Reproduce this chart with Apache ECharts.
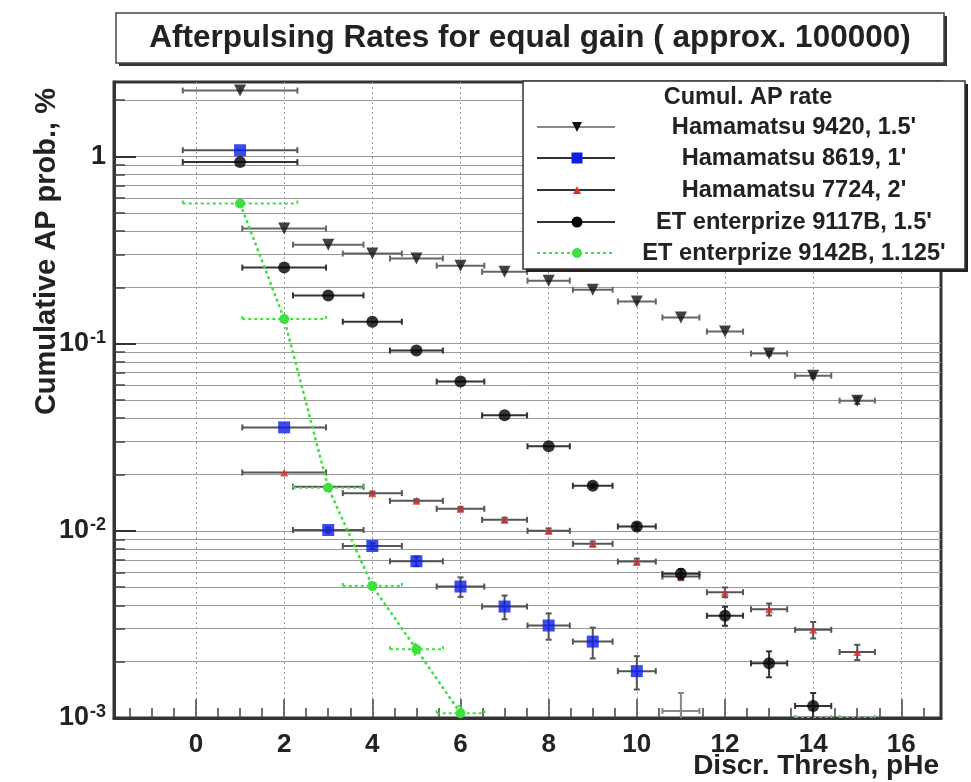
<!DOCTYPE html>
<html>
<head>
<meta charset="utf-8">
<script src="https://cdn.jsdelivr.net/npm/echarts@6/dist/echarts.min.js"></script>
<style>
  html, body { margin: 0; padding: 0; background: #fff; }
  #chart { width: 971px; height: 782px; }
</style>
</head>
<body>
<div id="chart"></div>
<script>
// Discriminator thresholds (pHe) and the half width of each threshold bin
const thresholds = [1, 2, 3, 4, 5, 6, 7, 8, 9, 10, 11, 12, 13, 14, 15];
const binHalfWidth = [1.3, 0.95, 0.8, 0.67, 0.6, 0.54, 0.51, 0.48, 0.45, 0.43, 0.42, 0.41, 0.41, 0.41, 0.4];

// Cumulative afterpulse probability, % (thresholds 1..n)
const ham9420 = [2.25, 0.412, 0.338, 0.303, 0.285, 0.261, 0.242, 0.217, 0.194, 0.168, 0.138, 0.116, 0.0885, 0.0674, 0.0496];
const ham9420Err = [0.02, 0.004, 0.003, 0.003, 0.003, 0.003, 0.003, 0.003, 0.003, 0.003, 0.002, 0.002, 0.002, 0.002, 0.002];

const ham8619 = [1.08, 0.0357, 0.0101, 0.0083, 0.00688, 0.00504, 0.00394, 0.00312, 0.00256, 0.00178];
const ham8619Err = [0.01, 0.0005, 0.0003, 0.0003, 0.0004, 0.0006, 0.00057, 0.0005, 0.00048, 0.00036];

// thresholds 2..15
const ham7724 = [0.0205, 0.0172, 0.0159, 0.01446, 0.01312, 0.01145, 0.0100, 0.00852, 0.00685, 0.0057, 0.0047, 0.00381, 0.00296, 0.00225];
const ham7724Err = [0.0003, 0.0003, 0.0003, 0.0003, 0.0003, 0.0003, 0.0003, 0.00025, 0.00025, 0.00025, 0.00028, 0.00028, 0.0003, 0.00021];

const et9117 = [0.933, 0.255, 0.181, 0.131, 0.0918, 0.0627, 0.0414, 0.0283, 0.0174, 0.01055, 0.00589, 0.00352, 0.00196, 0.00116];
const et9117Err = [0.01, 0.003, 0.002, 0.0015, 0.001, 0.0008, 0.0006, 0.0005, 0.0004, 0.0004, 0.00035, 0.00041, 0.00031, 0.0002];

const et9142 = [0.561, 0.1355, 0.0170, 0.00508, 0.00233, 0.00106];
const et9142Err = [0.005, 0.002, 0.0004, 0.0002, 0.00015, 0.0001];

// Points sitting on the lower edge of the range: only their bars remain visible
const et9142Tail = { x: [14, 15], y: [0.001, 0.001] };
const ham8619Tail = { x: [11], y: [0.00109], yErr: [0.00027] };

const seriesNames = [
  'Hamamatsu 9420, 1.5\'',
  'Hamamatsu 8619, 1\'',
  'Hamamatsu 7724, 2\'',
  'ET enterprize 9117B, 1.5\'',
  'ET enterprize 9142B, 1.125\''
];
const legendHeader = 'Cumul. AP rate';
const titleText = 'Afterpulsing Rates for equal gain ( approx. 100000)';
const xTitle = 'Discr. Thresh, pHe';
const yTitle = 'Cumulative AP prob., %';

const xMajorTicks = [0, 2, 4, 6, 8, 10, 12, 14, 16];
const xMinorTicks = [-1.5, -1, -0.5, 0.5, 1, 1.5, 2.5, 3, 3.5, 4.5, 5, 5.5, 6.5, 7, 7.5, 8.5, 9, 9.5, 10.5, 11, 11.5, 12.5, 13, 13.5, 14.5, 15, 15.5, 16.5];
const yMajorTicks = [0.001, 0.01, 0.1, 1];
const yMinorTicks = [
  0.002, 0.003, 0.004, 0.005, 0.006, 0.007, 0.008, 0.009,
  0.02, 0.03, 0.04, 0.05, 0.06, 0.07, 0.08, 0.09,
  0.2, 0.3, 0.4, 0.5, 0.6, 0.7, 0.8, 0.9, 2
];
const yLabelText = ['{b|10}{s|-3}', '{b|10}{s|-2}', '{b|10}{s|-1}', '{b|1}'];

const X_MIN = -1.86, X_MAX = 16.9, Y_MIN = 0.001, Y_MAX = 2.5;
const FONT = '"Liberation Sans", Arial, Helvetica, sans-serif';

// [x, y, xLow, xHigh, yLow, yHigh]
function barRows(xs, ys, yErr) {
  return ys.map((v, i) => {
    const x = xs[i];
    const hw = binHalfWidth[thresholds.indexOf(x)];
    const e = yErr ? yErr[i] : 0;
    return [x, v, x - hw, x + hw, v - e, v + e];
  });
}

function errorBars(rows, color, dashed, z) {
  return {
    type: 'custom',
    data: rows,
    clip: true,
    z: z,
    silent: true,
    encode: { x: 0, y: 1 },
    renderItem(params, api) {
      const x = api.value(0), y = api.value(1);
      const c = api.coord([x, y]);
      const l = api.coord([api.value(2), y]);
      const r = api.coord([api.value(3), y]);
      const t = api.coord([x, api.value(5)]);
      const b = api.coord([x, Math.max(api.value(4), Y_MIN * 0.5)]);
      const cap = 3;
      const style = { stroke: color, lineWidth: 2, lineDash: dashed ? [3, 3] : null, fill: null };
      const kids = [
        { type: 'line', shape: { x1: l[0], y1: c[1], x2: r[0], y2: c[1] }, style },
        { type: 'line', shape: { x1: l[0], y1: c[1] - cap, x2: l[0], y2: c[1] + cap }, style },
        { type: 'line', shape: { x1: r[0], y1: c[1] - cap, x2: r[0], y2: c[1] + cap }, style }
      ];
      if (b[1] - t[1] > 3) {
        kids.push({ type: 'line', shape: { x1: c[0], y1: t[1], x2: c[0], y2: b[1] }, style });
        kids.push({ type: 'line', shape: { x1: c[0] - cap, y1: t[1], x2: c[0] + cap, y2: t[1] }, style });
        kids.push({ type: 'line', shape: { x1: c[0] - cap, y1: b[1], x2: c[0] + cap, y2: b[1] }, style });
      }
      return { type: 'group', children: kids };
    }
  };
}

const pts = (xs, ys) => ys.map((v, i) => [xs[i], v]);
const xs1 = thresholds;
const xs7724 = thresholds.slice(1);

const styles = [
  { symbol: 'triangle', rotate: 180, size: 12, legendSize: 10, color: '#111', bar: '#666', legendLine: '#888' },
  { symbol: 'rect', rotate: 0, size: 12, legendSize: 11, color: '#0c1ee8', bar: '#555', legendLine: '#333' },
  { symbol: 'triangle', rotate: 0, size: 8, legendSize: 8, color: '#d83030', bar: '#555', legendLine: '#333' },
  { symbol: 'circle', rotate: 0, size: 12, legendSize: 11, color: '#000', bar: '#333', legendLine: '#333' },
  { symbol: 'circle', rotate: 0, size: 10, legendSize: 10, color: '#3ee03e', bar: '#3ee03e', legendLine: '#3ee03e' }
];

function markerSeries(idx, data, z) {
  const s = styles[idx];
  return {
    type: 'scatter', name: seriesNames[idx], data, z,
    symbol: s.symbol, symbolRotate: s.rotate, symbolSize: s.size,
    itemStyle: { color: s.color }, clip: true
  };
}

const series = [
  errorBars(barRows(xs1, ham9420, ham9420Err), styles[0].bar, false, 2),
  markerSeries(0, pts(xs1, ham9420), 3),
  errorBars(barRows(xs1, ham8619, ham8619Err), styles[1].bar, false, 2),
  errorBars(barRows(ham8619Tail.x, ham8619Tail.y, ham8619Tail.yErr), '#888', false, 2),
  markerSeries(1, pts(xs1, ham8619), 3),
  errorBars(barRows(xs7724, ham7724, ham7724Err), styles[2].bar, false, 2),
  markerSeries(2, pts(xs7724, ham7724), 3),
  errorBars(barRows(xs1, et9117, et9117Err), styles[3].bar, false, 4),
  markerSeries(3, pts(xs1, et9117), 5),
  errorBars(barRows(xs1, et9142, et9142Err), styles[4].bar, true, 6),
  errorBars(barRows(et9142Tail.x, et9142Tail.y, null), styles[4].bar, true, 6),
  {
    type: 'line', name: seriesNames[4], data: pts(xs1, et9142), z: 7,
    symbol: 'circle', symbolSize: styles[4].size,
    itemStyle: { color: styles[4].color },
    lineStyle: { color: styles[4].color, width: 2.5, type: [3, 3] },
    clip: true
  }
];

// Legend sample glyph for one series, centred at (cx, cy)
function legendGlyph(s, cx, cy) {
  const size = s.legendSize;
  const h = size / 2;
  if (s.symbol === 'circle') {
    return { type: 'circle', shape: { cx, cy, r: h }, style: { fill: s.color }, z: 103 };
  }
  if (s.symbol === 'rect') {
    return { type: 'rect', shape: { x: cx - h, y: cy - h, width: size, height: size }, style: { fill: s.color }, z: 103 };
  }
  const dir = s.rotate === 180 ? 1 : -1;
  return {
    type: 'polygon', z: 103,
    shape: { points: [[cx - h, cy - dir * h], [cx + h, cy - dir * h], [cx, cy + dir * h]] },
    style: { fill: s.color }
  };
}

// Legend box, title box and axis titles
const LX = 523, LY = 81, LW = 442, LH = 188;
const rowY = [127, 158, 190, 222, 253];
const legendKids = [
  { type: 'rect', shape: { x: LX + 3, y: LY + 3, width: LW, height: LH }, style: { fill: '#222' }, z: 100 },
  { type: 'rect', shape: { x: LX, y: LY, width: LW, height: LH }, style: { fill: '#fff', stroke: '#333', lineWidth: 1.5 }, z: 101 },
  { type: 'text', x: 748, y: 98, z: 102, style: { text: legendHeader, font: 'bold 23.5px ' + FONT, fill: '#222', align: 'center', verticalAlign: 'middle' } }
];
seriesNames.forEach((name, i) => {
  const s = styles[i];
  const y = rowY[i];
  legendKids.push({
    type: 'line', shape: { x1: 537, y1: y, x2: 615, y2: y }, z: 102,
    style: { stroke: s.legendLine, lineWidth: 2, lineDash: i === 4 ? [3, 3] : null }
  });
  legendKids.push(legendGlyph(s, 577, y));
  legendKids.push({
    type: 'text', x: 794, y: y, z: 102,
    style: { text: name, font: 'bold 23.6px ' + FONT, fill: '#222', align: 'center', verticalAlign: 'middle' }
  });
});

const gridLine = { show: true, lineStyle: { color: '#999', width: 1 } };

const option = {
  backgroundColor: '#fff',
  animation: false,
  legend: { show: false },
  grid: { left: 114, right: 30, top: 82, bottom: 64, show: true, borderColor: '#333', borderWidth: 3, backgroundColor: '#fff' },
  xAxis: [
    {
      type: 'value', min: X_MIN, max: X_MAX,
      axisLine: { show: true, onZero: false, lineStyle: { color: '#333', width: 3 } },
      axisTick: { show: true, inside: true, length: 19, customValues: xMajorTicks, lineStyle: { color: '#444', width: 1.5 } },
      axisLabel: { show: true, customValues: xMajorTicks, margin: 14, fontFamily: FONT, fontWeight: 'bold', fontSize: 26, color: '#222' },
      splitLine: { show: true, lineStyle: { color: '#999', width: 1, type: [2, 3] } }
    },
    {
      type: 'value', min: X_MIN, max: X_MAX, position: 'bottom', offset: 0,
      axisLine: { show: false, onZero: false },
      axisTick: { show: true, inside: true, length: 10, customValues: xMinorTicks, lineStyle: { color: '#444', width: 1.5 } },
      axisLabel: { show: false },
      splitLine: { show: false }
    }
  ],
  yAxis: [
    {
      type: 'log', logBase: 10, min: Y_MIN, max: Y_MAX, position: 'left', offset: 0,
      axisLine: { show: true, onZero: false, lineStyle: { color: '#333', width: 3 } },
      axisTick: { show: true, inside: true, length: 22, customValues: yMajorTicks, lineStyle: { color: '#333', width: 2 } },
      axisLabel: {
        show: true, customValues: yMajorTicks, margin: 8,
        formatter: (v) => {
          const i = yMajorTicks.findIndex(k => Math.abs(Math.log10(v) - Math.log10(k)) < 1e-6);
          return i >= 0 ? yLabelText[i] : '';
        },
        rich: {
          b: { fontFamily: FONT, fontWeight: 'bold', fontSize: 27, color: '#222' },
          s: { fontFamily: FONT, fontWeight: 'bold', fontSize: 18, color: '#222', padding: [0, 0, 12, 1] }
        }
      },
      splitLine: gridLine
    },
    {
      type: 'log', logBase: 10, min: Y_MIN, max: Y_MAX, position: 'left', offset: 0,
      axisLine: { show: false, onZero: false },
      axisTick: { show: true, inside: true, length: 11, customValues: yMinorTicks, lineStyle: { color: '#444', width: 1.5 } },
      axisLabel: { show: false },
      splitLine: gridLine
    }
  ],
  series: series,
  graphic: [
    { type: 'rect', shape: { x: 119, y: 16, width: 828, height: 50 }, style: { fill: '#333' }, z: 100 },
    { type: 'rect', shape: { x: 116, y: 13, width: 828, height: 50 }, style: { fill: '#fff', stroke: '#444', lineWidth: 1.5 }, z: 101 },
    { type: 'text', x: 530, y: 38, z: 102, style: { text: titleText, font: 'bold 31.5px ' + FONT, fill: '#222', align: 'center', verticalAlign: 'middle' } },
    { type: 'group', children: legendKids },
    { type: 'text', x: 939, y: 766, z: 102, style: { text: xTitle, font: 'bold 28px ' + FONT, fill: '#222', align: 'right', verticalAlign: 'middle' } },
    { type: 'text', x: 47, y: 88, rotation: Math.PI / 2, z: 102, style: { text: yTitle, font: 'bold 29px ' + FONT, fill: '#222', align: 'right', verticalAlign: 'middle' } }
  ]
};

const chart = echarts.init(document.getElementById('chart'), null, { renderer: 'canvas' });
chart.setOption(option);
</script>
</body>
</html>
